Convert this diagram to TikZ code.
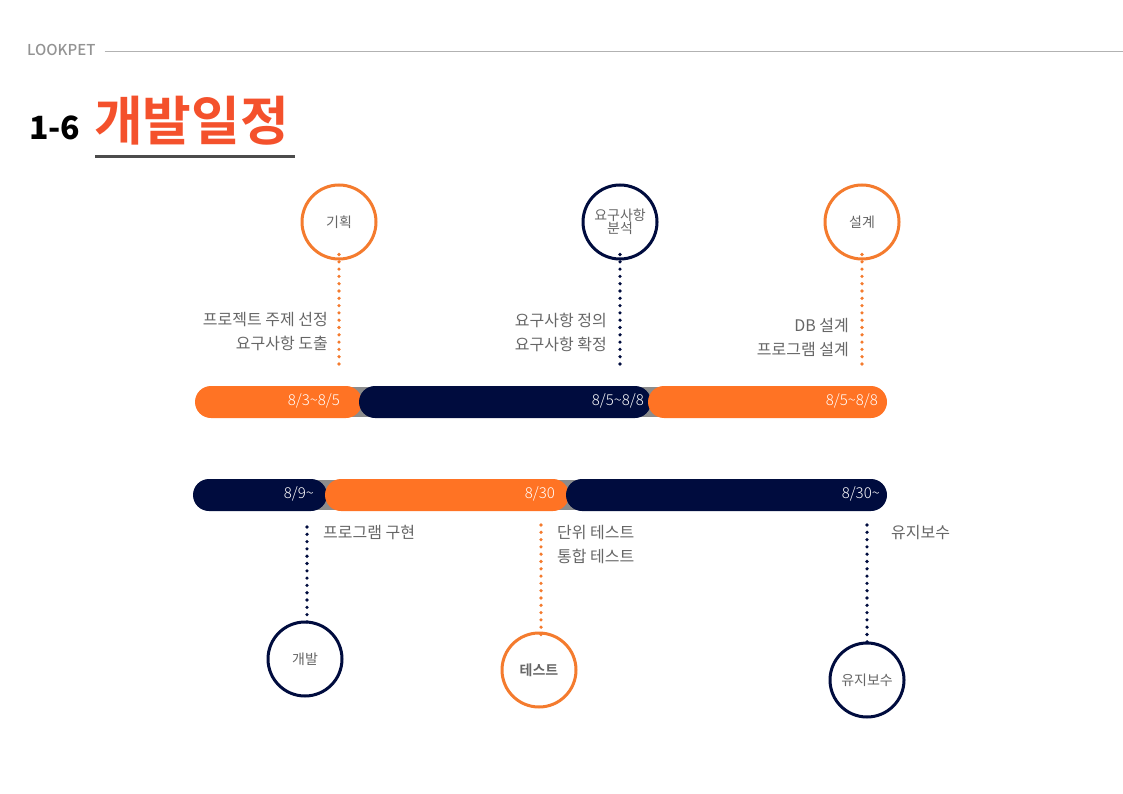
\documentclass[tikz,border=0pt]{standalone}
\usepackage{fontspec}
\setmainfont{Noto Sans CJK KR}
\newfontfamily\krbold{Noto Sans CJK KR Bold}
\newfontfamily\krblack{Noto Sans CJK KR Black}
\newfontfamily\krmed{Noto Sans CJK KR Medium}
\newfontfamily\krlight{Noto Sans CJK KR Light}
\definecolor{navy}{HTML}{000C3E}
\definecolor{orng}{HTML}{FF7324}
\definecolor{corng}{HTML}{F47B2E}
\definecolor{tred}{HTML}{F4512C}
\definecolor{txtgray}{HTML}{666666}
\definecolor{bargray}{HTML}{8C8C8C}
\begin{document}
\begin{tikzpicture}[x=1pt,y=-1pt,
  phase/.style={circle,line width=3pt,fill=white,minimum size=74pt,inner sep=0pt,
     text=txtgray,font=\fontsize{14}{16}\selectfont,align=center},
  ophase/.style={phase,draw=corng},
  nphase/.style={phase,draw=navy},
  odots/.style={draw=corng,line width=3.6pt,line cap=round,dash pattern=on 0pt off 7.3pt},
  ndots/.style={draw=navy,line width=3.6pt,line cap=round,dash pattern=on 0pt off 7.3pt},
  desc/.style={text=txtgray,font=\fontsize{16}{24}\selectfont,inner sep=0pt},
  date/.style={text=white,font=\krlight\fontsize{15}{16}\selectfont,inner sep=0pt,anchor=east},
  seg/.style={rounded corners=16pt}
]
\useasboundingbox (0,0) rectangle (1123,794);
% header
\node[text=gray!85,font=\krmed\fontsize{15}{16}\selectfont,anchor=west,inner sep=0pt] (brand) at (27,50) {LOOKPET};
\coordinate (hr) at (1123,51);
\draw[gray!60,line width=0.8pt] ([xshift=9pt]brand.east |- hr) -- (hr);
\node[font=\krblack\fontsize{32}{34}\selectfont,anchor=west,inner sep=0pt] (num) at (29,128) {1-6};
\node[text=tred,font=\krbold\fontsize{53}{56}\selectfont,anchor=west,inner sep=0pt] (title) at (94,121) {개발일정};
\draw[black!70,line width=3pt] (95,157) -- (295,157);

% top bar
\fill[bargray] (215,387) rectangle (866,417);
\fill[orng,seg] (195,386) rectangle (362,418);
\fill[navy,seg] (359,386) rectangle (651,418);
\fill[orng,seg] (648,386) rectangle (887,418);
\node[date] (d1) at (340,401) {8/3\char"007E 8/5};
\node[date] (d2) at (644,401) {8/5\char"007E 8/8};
\node[date] (d3) at (878,401) {8/5\char"007E 8/8};

% bottom bar
\fill[bargray] (213,480) rectangle (866,510);
\fill[navy,seg] (193,479) rectangle (327,511);
\fill[orng,seg] (325,479) rectangle (569,511);
\fill[navy,seg] (566,479) rectangle (887,511);
\node[date] (d4) at (314,494) {8/9\char"007E};
\node[date] (d5) at (555,494) {8/30};
\node[date] (d6) at (880,494) {8/30\char"007E};

% top phases
\node[ophase] (p1) at (339,222) {기획};
\node[nphase] (p2) at (620,222) {요구사항\\[-3pt]분석};
\node[ophase] (p3) at (862,222) {설계};
\coordinate (e1) at (339,370);
\coordinate (e2) at (620,370);
\coordinate (e3) at (862,370);
\path[odots] ([yshift=6pt]p1.south) -- (e1);
\path[ndots] ([yshift=6pt]p2.south) -- (e2);
\path[odots] ([yshift=6pt]p3.south) -- (e3);
\node[desc,align=right,anchor=east] (t1) at (328,332) {프로젝트 주제 선정\\요구사항 도출};
\node[desc,align=right,anchor=east] (t2) at (607,332) {요구사항 정의\\요구사항 확정};
\node[desc,align=right,anchor=east] (t3) at (849,338) {DB 설계\\프로그램 설계};

% bottom phases
\node[nphase] (p4) at (305,659) {개발};
\node[ophase,font=\krbold\fontsize{14}{16}\selectfont] (p5) at (539,670) {테스트};
\node[nphase] (p6) at (867,680) {유지보수};
\coordinate (s4) at (307,527);
\coordinate (s5) at (541,525);
\coordinate (s6) at (867,525);
\path[ndots] (s4) -- ([yshift=-5pt]p4.north -| s4);
\path[odots] (s5) -- ([yshift=-5pt]p5.north -| s5);
\path[ndots] (s6) -- ([yshift=-5pt]p6.north);
\node[desc,align=left,anchor=west] (t4) at (323,533) {프로그램 구현};
\node[desc,align=left,anchor=west] (t5) at (557,545) {단위 테스트\\통합 테스트};
\node[desc,align=left,anchor=west] (t6) at (891,533) {유지보수};
\end{tikzpicture}
\end{document}
